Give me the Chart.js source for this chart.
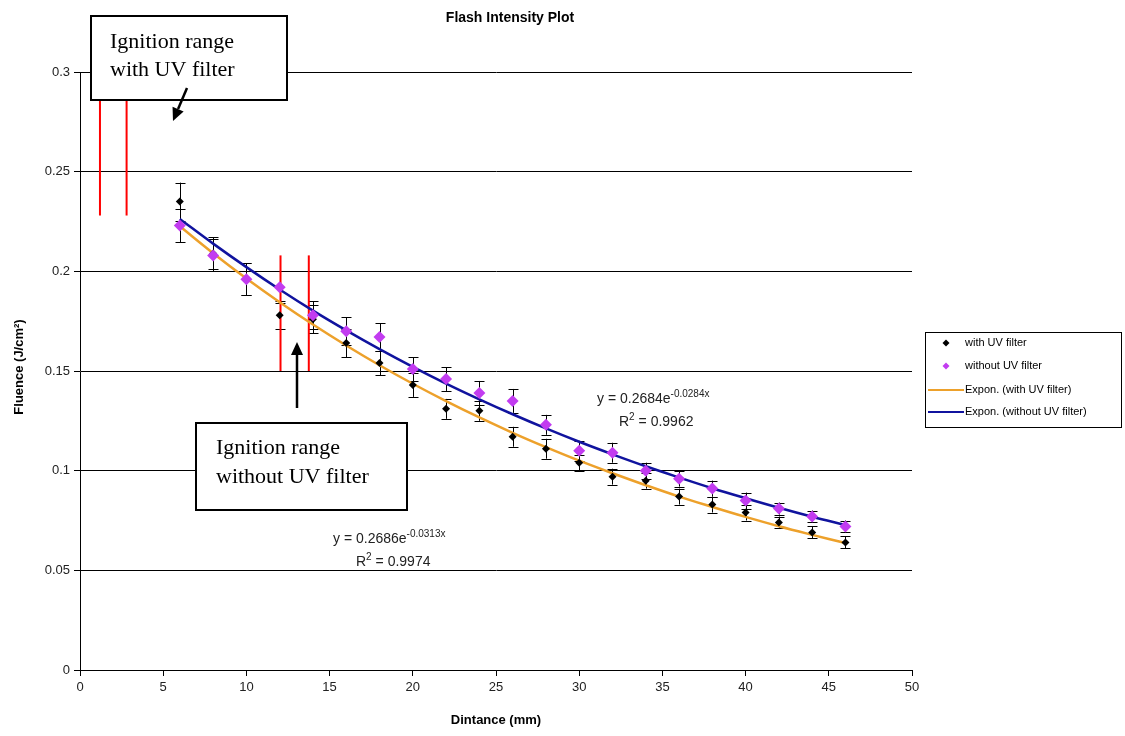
<!DOCTYPE html>
<html>
<head>
<meta charset="utf-8">
<script src="https://cdn.jsdelivr.net/npm/chart.js@4/dist/chart.umd.min.js"></script>
<style>
  body { margin: 0; background: #fff; }
</style>
</head>
<body>
<canvas id="myChart" width="1125" height="736"></canvas>
<script>
// distances (mm)
const distance = [6, 8, 10, 12, 14, 16, 18, 20, 22, 24, 26, 28, 30, 32, 34, 36, 38, 40, 42, 44, 46];

const withUV = [0.235, 0.209, 0.196, 0.178, 0.176, 0.164, 0.154, 0.143, 0.131, 0.130, 0.117,
    0.111, 0.104, 0.097, 0.095, 0.087, 0.083, 0.079, 0.074, 0.069, 0.064];
const withUVErr = [0.0095, 0.008, 0.008, 0.007, 0.007, 0.007, 0.006, 0.006, 0.005, 0.005, 0.005,
    0.005, 0.004, 0.004, 0.004, 0.004, 0.004, 0.004, 0.003, 0.003, 0.003];

const withoutUV = [0.223, 0.208, 0.196, 0.192, 0.178, 0.170, 0.167, 0.151, 0.146, 0.139, 0.135,
    0.123, 0.110, 0.109, 0.100, 0.096, 0.091, 0.085, 0.081, 0.077, 0.072];
const withoutUVErr = [0.0085, 0.008, 0.008, 0.008, 0.007, 0.007, 0.007, 0.006, 0.006, 0.006, 0.006,
    0.005, 0.005, 0.005, 0.004, 0.004, 0.004, 0.004, 0.003, 0.003, 0.003];

// exponential trend lines (values of the fits shown on the chart)
const trendWithUV = [0.2226, 0.2091, 0.1964, 0.1845, 0.1733, 0.1628, 0.1529, 0.1436, 0.1349, 0.1267, 0.1190,
    0.1118, 0.1050, 0.0987, 0.0927, 0.0870, 0.0818, 0.0768, 0.0721, 0.0678, 0.0637];
const trendWithoutUV = [0.2263, 0.2139, 0.2021, 0.1909, 0.1803, 0.1704, 0.1610, 0.1521, 0.1437, 0.1358, 0.1283,
    0.1212, 0.1145, 0.1082, 0.1022, 0.0966, 0.0912, 0.0862, 0.0814, 0.0769, 0.0727];

// ignition ranges: [x1, x2, yLow, yHigh]
const ignitionWithUV = [1.2, 2.8, 0.228, 0.300];
const ignitionWithoutUV = [12.05, 13.75, 0.150, 0.208];

const xTicks = [0, 5, 10, 15, 20, 25, 30, 35, 40, 45, 50];
const yTicks = [0, 0.05, 0.1, 0.15, 0.2, 0.25, 0.3];
const yTickLabels = ['0', '0.05', '0.1', '0.15', '0.2', '0.25', '0.3'];

let orangeColor = '#eda12b', blueColor = '#10139e', purpleColor = '#c23cf0';

function pts(ys) {
    return distance.map((x, i) => ({ x: x, y: ys[i] }));
}

const errorBars = {
    id: 'errorBars',
    beforeDatasetsDraw(chart) {
        const ctx = chart.ctx, xs = chart.scales.x, ys = chart.scales.y;
        ctx.save();
        ctx.strokeStyle = '#000';
        ctx.lineWidth = 1;
        [[withUV, withUVErr], [withoutUV, withoutUVErr]].forEach(([vals, errs]) => {
            vals.forEach((v, i) => {
                const px = Math.round(xs.getPixelForValue(distance[i])) + 0.5;
                const top = ys.getPixelForValue(v + errs[i]);
                const bot = ys.getPixelForValue(v - errs[i]);
                ctx.beginPath();
                ctx.moveTo(px, top); ctx.lineTo(px, bot);
                ctx.moveTo(px - 5, Math.round(top) + 0.5); ctx.lineTo(px + 5, Math.round(top) + 0.5);
                ctx.moveTo(px - 5, Math.round(bot) + 0.5); ctx.lineTo(px + 5, Math.round(bot) + 0.5);
                ctx.stroke();
            });
        });
        // red ignition range lines
        ctx.strokeStyle = '#ff0000';
        ctx.lineWidth = 2;
        [ignitionWithUV, ignitionWithoutUV].forEach(r => {
            [r[0], r[1]].forEach(x => {
                const px = xs.getPixelForValue(x);
                ctx.beginPath();
                ctx.moveTo(px, ys.getPixelForValue(r[2]));
                ctx.lineTo(px, ys.getPixelForValue(r[3]));
                ctx.stroke();
            });
        });
        ctx.restore();
    }
};

function arrow(ctx, x1, y1, x2, y2) {
    const a = Math.atan2(y2 - y1, x2 - x1);
    const hl = 13, hw = 6;
    const bx = x2 - hl * Math.cos(a), by = y2 - hl * Math.sin(a);
    ctx.beginPath();
    ctx.moveTo(x1, y1); ctx.lineTo(bx, by);
    ctx.lineWidth = 2.5;
    ctx.stroke();
    ctx.beginPath();
    ctx.moveTo(x2, y2);
    ctx.lineTo(bx + hw * Math.sin(a), by - hw * Math.cos(a));
    ctx.lineTo(bx - hw * Math.sin(a), by + hw * Math.cos(a));
    ctx.closePath();
    ctx.fill();
}

// draws base text, a superscript, then the rest
function supText(ctx, x, y, base, sup, rest, size) {
    const f = '"Liberation Sans", Arial, sans-serif';
    ctx.textAlign = 'left';
    ctx.textBaseline = 'alphabetic';
    ctx.font = size + 'px ' + f;
    ctx.fillText(base, x, y);
    let w = ctx.measureText(base).width;
    ctx.font = Math.round(size * 0.7) + 'px ' + f;
    ctx.fillText(sup, x + w, y - size * 0.45);
    w += ctx.measureText(sup).width;
    if (rest) {
        ctx.font = size + 'px ' + f;
        ctx.fillText(rest, x + w, y);
    }
}

const decorations = {
    id: 'decorations',
    afterDraw(chart) {
        const ctx = chart.ctx;
        ctx.save();
        ctx.fillStyle = '#000';
        ctx.textAlign = 'center';
        ctx.textBaseline = 'middle';
        ctx.font = 'bold 14px "Liberation Sans", Arial, sans-serif';
        ctx.fillText('Flash Intensity Plot', 510, 18);
        ctx.font = 'bold 13px "Liberation Sans", Arial, sans-serif';
        ctx.fillText('Dintance (mm)', 496, 720);
        ctx.save();
        ctx.translate(19, 367);
        ctx.rotate(-Math.PI / 2);
        ctx.fillText('Fluence (J/cm\u00b2)', 0, 0);
        ctx.restore();

        // fit equations
        ctx.fillStyle = '#222';
        supText(ctx, 597, 403, 'y = 0.2684e', '-0.0284x', '', 14);
        supText(ctx, 619, 426, 'R', '2', ' = 0.9962', 14);
        supText(ctx, 333, 543, 'y = 0.2686e', '-0.0313x', '', 14);
        supText(ctx, 356, 566, 'R', '2', ' = 0.9974', 14);

        // legend
        ctx.fillStyle = '#fff';
        ctx.fillRect(925, 332, 197, 96);
        ctx.strokeStyle = '#000';
        ctx.lineWidth = 1;
        ctx.strokeRect(925.5, 332.5, 196, 95);
        ctx.font = '11px "Liberation Sans", Arial, sans-serif';
        ctx.textBaseline = 'middle';
        const rows = [343, 366, 390, 412];
        const diamond = (x, y, r, c) => {
            ctx.fillStyle = c;
            ctx.beginPath();
            ctx.moveTo(x, y - r); ctx.lineTo(x + r, y); ctx.lineTo(x, y + r); ctx.lineTo(x - r, y);
            ctx.closePath(); ctx.fill();
        };
        diamond(946, rows[0], 3.5, '#000');
        diamond(946, rows[1], 3.5, purpleColor);
        ctx.lineWidth = 2;
        ctx.strokeStyle = orangeColor;
        ctx.beginPath(); ctx.moveTo(928, rows[2]); ctx.lineTo(964, rows[2]); ctx.stroke();
        ctx.strokeStyle = blueColor;
        ctx.beginPath(); ctx.moveTo(928, rows[3]); ctx.lineTo(964, rows[3]); ctx.stroke();
        ctx.fillStyle = '#000';
        ctx.fillText('with UV filter', 965, rows[0]);
        ctx.fillText('without UV filter', 965, rows[1]);
        ctx.fillText('Expon. (with UV filter)', 965, rows[2]);
        ctx.fillText('Expon. (without UV filter)', 965, rows[3]);

        // annotation boxes
        ctx.lineWidth = 2;
        ctx.strokeStyle = '#000';
        ctx.fillStyle = '#fff';
        ctx.fillRect(91, 16, 196, 84);
        ctx.strokeRect(91, 16, 196, 84);
        ctx.fillRect(196, 423, 211, 87);
        ctx.strokeRect(196, 423, 211, 87);
        ctx.fillStyle = '#000';
        ctx.font = '22px "Liberation Serif", "Times New Roman", serif';
        ctx.fillText('Ignition range', 110, 42);
        ctx.fillText('with UV filter', 110, 70);
        ctx.fillText('Ignition range', 216, 448);
        ctx.fillText('without UV filter', 216, 477);

        arrow(ctx, 187, 88, 173, 121);
        arrow(ctx, 297, 408, 297, 342);
        ctx.restore();
    }
};

const data = {
    datasets: [
        {
            label: 'with UV filter',
            data: pts(withUV),
            showLine: false,
            pointStyle: 'rectRot',
            pointRadius: 4,
            backgroundColor: '#000',
            borderColor: '#000',
            borderWidth: 0,
            order: 1
        },
        {
            label: 'without UV filter',
            data: pts(withoutUV),
            showLine: false,
            pointStyle: 'rectRot',
            pointRadius: 6,
            backgroundColor: purpleColor,
            borderColor: purpleColor,
            borderWidth: 0,
            order: 0
        },
        {
            label: 'Expon. (with UV filter)',
            data: pts(trendWithUV),
            showLine: true,
            borderColor: orangeColor,
            borderWidth: 2.5,
            pointRadius: 0,
            tension: 0.4,
            order: 3
        },
        {
            label: 'Expon. (without UV filter)',
            data: pts(trendWithoutUV),
            showLine: true,
            borderColor: blueColor,
            borderWidth: 2.5,
            pointRadius: 0,
            tension: 0.4,
            order: 2
        }
    ]
};

const tickFont = { family: '"Liberation Sans", Arial, sans-serif', size: 13 };

const config = {
    type: 'scatter',
    data,
    options: {
        responsive: false,
        animation: false,
        layout: { padding: { left: 0, top: 72, right: 213, bottom: 0 } },
        plugins: {
            legend: { display: false },
            title: { display: false },
            tooltip: { enabled: false }
        },
        scales: {
            x: {
                type: 'linear',
                min: 0,
                max: 50,
                afterFit: s => { s.height = 66; },
                afterBuildTicks: s => { s.ticks = xTicks.map(v => ({ value: v })); },
                grid: { drawOnChartArea: false, color: '#000', tickLength: 6 },
                border: { color: '#000', width: 1 },
                ticks: { color: '#222', font: tickFont, padding: 4, maxRotation: 0 }
            },
            y: {
                type: 'linear',
                min: 0,
                max: 0.3,
                afterFit: s => { s.width = 80; },
                afterBuildTicks: s => { s.ticks = yTicks.map(v => ({ value: v })); },
                grid: { color: '#000', tickLength: 6, lineWidth: 1 },
                border: { color: '#000', width: 1 },
                ticks: {
                    color: '#222', font: tickFont, padding: 4,
                    callback: (v, i) => yTickLabels[i]
                }
            }
        }
    },
    plugins: [errorBars, decorations]
};

const myChart = new Chart(document.getElementById('myChart'), config);
</script>
</body>
</html>
